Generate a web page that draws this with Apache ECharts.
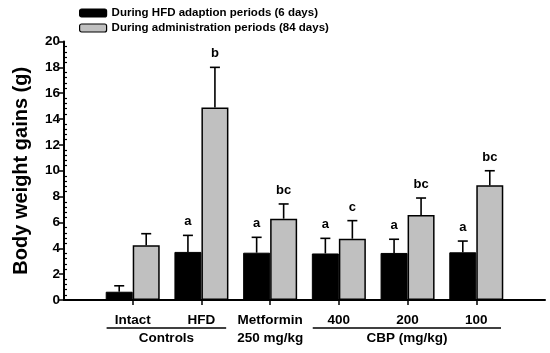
<!DOCTYPE html>
<html><head><meta charset="utf-8">
<script src="https://cdn.jsdelivr.net/npm/echarts@6/dist/echarts.min.js"></script>
<style>html,body{margin:0;padding:0;background:#fff}#c{width:550px;height:353px}</style>
</head><body><div id="c"></div>
<script>
var categories = ['', 'Intact', 'HFD', 'Metformin\n250 mg/kg', '400', '200', '100', ''];
var adaptMean = [null, 0.64, 3.72, 3.66, 3.60, 3.64, 3.69, null];
var adaptErr  = [null, 1.10, 5.00, 4.85, 4.77, 4.70, 4.56, null];
var adaptSig  = ['', '', 'a', 'a', 'a', 'a', 'a', ''];
var adminMean = [null, 4.23, 14.9, 6.29, 4.74, 6.58, 8.87, null];
var adminErr  = [null, 5.13, 18.0, 7.43, 6.14, 7.89, 10.0, null];
var adminSig  = ['', '', 'b', 'bc', 'c', 'bc', 'bc', ''];
var yTicks = [0, 2, 4, 6, 8, 10, 12, 14, 16, 18, 20];
var groups = [
  {name: 'Controls', from: 1, to: 2},
  {name: 'CBP (mg/kg)', from: 4, to: 6}
];
var FONT = 'Liberation Sans, Arial, sans-serif';
var BW = 27;

function errData(mean, err, sig) {
  var out = [];
  for (var i = 0; i < mean.length; i++) {
    if (mean[i] != null) out.push([i, mean[i], err[i], sig[i]]);
  }
  return out;
}
function errSeries(name, data, dx) {
  return {
    type: 'custom', name: name + ' err', z: 5, silent: true,
    data: data,
    encode: {x: 0, y: 2},
    renderItem: function (params, api) {
      var top = api.coord([api.value(0), api.value(1)]);
      var cap = api.coord([api.value(0), api.value(2)]);
      var x = top[0] + dx;
      var children = [
        {type: 'line', shape: {x1: x, y1: top[1], x2: x, y2: cap[1]}, style: {stroke: '#000', lineWidth: 1.6}},
        {type: 'line', shape: {x1: x - 5, y1: cap[1], x2: x + 5, y2: cap[1]}, style: {stroke: '#000', lineWidth: 1.6}}
      ];
      var s = data[params.dataIndex][3];
      if (s) {
        children.push({type: 'text', style: {text: s, x: x, y: cap[1] - 7, align: 'center', verticalAlign: 'bottom',
          font: 'bold 13px ' + FONT, fill: '#000'}});
      }
      return {type: 'group', children: children};
    }
  };
}

var chart = echarts.init(document.getElementById('c'), null, {renderer: 'canvas'});
var option = {
  animation: false,
  backgroundColor: '#fff',
  grid: {left: 64, right: 5, top: 41.5, bottom: 53},
  legend: {
    orient: 'vertical', left: 74, top: 2, itemWidth: 27, itemHeight: 8, itemGap: 3,
    textStyle: {fontFamily: FONT, fontWeight: 'bold', fontSize: 11.5, color: '#000', padding: [0, 0, 0, 0]},
    itemStyle: {borderColor: '#000', borderWidth: 1.2},
    data: ['During HFD adaption periods (6 days)', 'During administration periods (84 days)']
  },
  xAxis: {
    type: 'category', data: categories, boundaryGap: false,
    axisLine: {lineStyle: {color: '#000', width: 2}},
    axisTick: {show: true, length: 5, lineStyle: {color: '#000', width: 1.5},
      interval: function (i) { return i > 0 && i < categories.length - 1; }},
    axisLabel: {interval: 0, fontFamily: FONT, fontWeight: 'bold', fontSize: 13.5, color: '#000', margin: 11, lineHeight: 18,
      verticalAlign: 'top'},
    splitLine: {show: false}
  },
  yAxis: {
    type: 'value', min: 0, max: 20, interval: 2,
    name: 'Body weight gains (g)', nameLocation: 'middle', nameGap: 33, nameRotate: 90,
    nameTextStyle: {fontFamily: FONT, fontWeight: 'bold', fontSize: 20, color: '#000'},
    axisLine: {show: true, lineStyle: {color: '#000', width: 2}},
    axisTick: {show: true, length: 5, lineStyle: {color: '#000', width: 1.5}},
    minorTick: {show: true, splitNumber: 5, length: -3, lineStyle: {color: '#000', width: 1.2}},
    axisLabel: {fontFamily: FONT, fontWeight: 'bold', fontSize: 13.5, color: '#000', margin: 4,
      customValues: yTicks},
    splitLine: {show: false}
  },
  series: [
    {name: 'During HFD adaption periods (6 days)', type: 'bar', data: adaptMean, barWidth: BW, barGap: '0%',
      itemStyle: {color: '#000', borderColor: '#000', borderWidth: 1}},
    {name: 'During administration periods (84 days)', type: 'bar', data: adminMean, barWidth: BW, barGap: '0%',
      itemStyle: {color: '#c0c0c0', borderColor: '#000', borderWidth: 1.5}},
    errSeries('adapt', errData(adaptMean, adaptErr, adaptSig), -BW / 2),
    errSeries('admin', errData(adminMean, adminErr, adminSig), BW / 2)
  ]
};
chart.setOption(option);

var g = [];
var y0 = chart.convertToPixel({yAxisIndex: 0}, 0);
groups.forEach(function (gr) {
  var a = chart.convertToPixel({xAxisIndex: 0}, gr.from);
  var b = chart.convertToPixel({xAxisIndex: 0}, gr.to);
  var step = chart.convertToPixel({xAxisIndex: 0}, 1) - chart.convertToPixel({xAxisIndex: 0}, 0);
  var x1 = a - step * 0.38, x2 = b + step * 0.36;
  g.push({type: 'line', shape: {x1: x1, y1: y0 + 28, x2: x2, y2: y0 + 28}, style: {stroke: '#000', lineWidth: 1.5}});
  g.push({type: 'text', style: {text: gr.name, x: (x1 + x2) / 2, y: y0 + 31, align: 'center', verticalAlign: 'top',
    font: 'bold 13.5px ' + FONT, fill: '#000'}});
});
chart.setOption({graphic: g});
</script></body></html>
